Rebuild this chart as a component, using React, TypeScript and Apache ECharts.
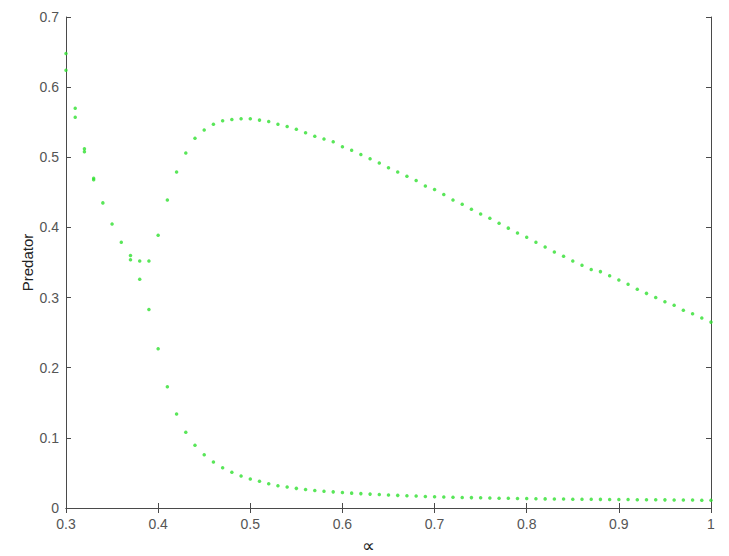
import React, { useEffect, useRef } from "react";
import * as echarts from "echarts";

// alpha values 0.30 ... 1.00 step 0.01
const alphaValues: number[] = [
  0.30, 0.31, 0.32, 0.33, 0.34, 0.35, 0.36, 0.37, 0.38, 0.39,
  0.40, 0.41, 0.42, 0.43, 0.44, 0.45, 0.46, 0.47, 0.48, 0.49,
  0.50, 0.51, 0.52, 0.53, 0.54, 0.55, 0.56, 0.57, 0.58, 0.59,
  0.60, 0.61, 0.62, 0.63, 0.64, 0.65, 0.66, 0.67, 0.68, 0.69,
  0.70, 0.71, 0.72, 0.73, 0.74, 0.75, 0.76, 0.77, 0.78, 0.79,
  0.80, 0.81, 0.82, 0.83, 0.84, 0.85, 0.86, 0.87, 0.88, 0.89,
  0.90, 0.91, 0.92, 0.93, 0.94, 0.95, 0.96, 0.97, 0.98, 0.99,
  1.00,
];

// upper branch of predator equilibrium
const upperBranch: (number | null)[] = [
  0.648, 0.570, 0.512, 0.470, 0.435, 0.405, 0.379, 0.360, 0.352, 0.352,
  0.389, 0.439, 0.479, 0.506, 0.527, 0.539, 0.547, 0.552, 0.554, 0.555,
  0.555, 0.553, 0.551, 0.547, 0.544, 0.540, 0.535, 0.530, 0.526, 0.522,
  0.515, 0.510, 0.504, 0.498, 0.492, 0.485, 0.479, 0.473, 0.467, 0.459,
  0.454, 0.447, 0.439, 0.433, 0.426, 0.419, 0.413, 0.406, 0.399, 0.392,
  0.386, 0.379, 0.372, 0.365, 0.359, 0.352, 0.346, 0.340, 0.337, 0.331,
  0.325, 0.319, 0.312, 0.306, 0.300, 0.294, 0.289, 0.282, 0.277, 0.271,
  0.265,
];

// lower branch of predator equilibrium
const lowerBranch: (number | null)[] = [
  0.624, 0.557, 0.508, 0.468, null, null, null, 0.354, 0.326, 0.283,
  0.227, 0.173, 0.134, 0.108, 0.0894, 0.076, 0.0656, 0.0575, 0.051, 0.0456,
  0.0414, 0.038, 0.0347, 0.0318, 0.030, 0.028, 0.0265, 0.025, 0.024, 0.023,
  0.022, 0.0212, 0.0205, 0.0198, 0.0192, 0.0186, 0.018, 0.0175, 0.017, 0.0165,
  0.016, 0.0157, 0.0154, 0.0151, 0.0148, 0.0145, 0.0142, 0.014, 0.0138, 0.0136,
  0.0134, 0.0132, 0.013, 0.0128, 0.0127, 0.0126, 0.0125, 0.0124, 0.0123, 0.0122,
  0.0121, 0.012, 0.0119, 0.0118, 0.0117, 0.0116, 0.0115, 0.0114, 0.0113, 0.0112,
  0.0111,
];

const xTickLabels = ["0.3", "0.4", "0.5", "0.6", "0.7", "0.8", "0.9", "1"];
const yTickLabels = ["0", "0.1", "0.2", "0.3", "0.4", "0.5", "0.6", "0.7"];

const FONT = "'Liberation Sans', Arial, sans-serif";
const AXIS_COLOR = "#4a4a4a";
const TEXT_COLOR = "#555555";
const DOT_COLOR = "#2fe02f";

export default function App() {
  const ref = useRef<HTMLDivElement>(null);

  useEffect(() => {
    if (!ref.current) return;
    const chart = echarts.init(ref.current, undefined, { renderer: "svg" });

    const pts: [number, number][] = [];
    alphaValues.forEach((a, i) => {
      const u = upperBranch[i];
      const l = lowerBranch[i];
      if (u !== null) pts.push([a, u]);
      if (l !== null) pts.push([a, l]);
    });

    const fmtX = (v: number) => {
      const idx = Math.round((v - 0.3) / 0.1);
      return xTickLabels[idx] ?? "";
    };
    const fmtY = (v: number) => {
      const idx = Math.round(v / 0.1);
      return yTickLabels[idx] ?? "";
    };

    const axisLine = { show: true, lineStyle: { color: AXIS_COLOR, width: 1 } };
    const tick = { show: true, inside: true, length: 5, lineStyle: { color: AXIS_COLOR, width: 1 } };

    chart.setOption({
      animation: false,
      backgroundColor: "#ffffff",
      grid: { left: 66, right: 18, top: 17, bottom: 48, outerBoundsMode: "none", containLabel: false },
      xAxis: [
        {
          type: "value",
          min: 0.3,
          max: 1.0,
          interval: 0.1,
          position: "bottom",
          axisLine,
          axisTick: tick,
          splitLine: { show: false },
          axisLabel: {
            formatter: fmtX,
            color: TEXT_COLOR,
            fontFamily: FONT,
            fontSize: 14,
            margin: 9,
          },
          name: "∝",
          nameLocation: "middle",
          nameGap: 28,
          nameMoveOverlap: false,
          nameTextStyle: {
            color: "#222",
            fontFamily: "'DejaVu Sans', sans-serif",
            fontSize: 18,
            padding: [0, 40, 0, 0],
          },
        },
        {
          type: "value",
          min: 0.3,
          max: 1.0,
          interval: 0.1,
          position: "top",
          axisLine,
          axisTick: tick,
          axisLabel: { show: false },
          splitLine: { show: false },
        },
      ],
      yAxis: [
        {
          type: "value",
          min: 0,
          max: 0.7,
          interval: 0.1,
          position: "left",
          axisLine,
          axisTick: tick,
          splitLine: { show: false },
          axisLabel: {
            formatter: fmtY,
            color: TEXT_COLOR,
            fontFamily: FONT,
            fontSize: 14,
            margin: 7,
          },
          name: "Predator",
          nameLocation: "middle",
          nameGap: 31,
          nameMoveOverlap: false,
          nameRotate: 90,
          nameTextStyle: {
            color: "#222",
            fontFamily: FONT,
            fontSize: 15,
          },
        },
        {
          type: "value",
          min: 0,
          max: 0.7,
          interval: 0.1,
          position: "right",
          axisLine,
          axisTick: tick,
          axisLabel: { show: false },
          splitLine: { show: false },
        },
      ],
      series: [
        {
          type: "scatter",
          xAxisIndex: 0,
          yAxisIndex: 0,
          symbol: "circle",
          symbolSize: 3.5,
          itemStyle: { color: DOT_COLOR },
          data: pts,
          clip: false,
        },
      ],
    });

    return () => chart.dispose();
  }, []);

  return (
    <div
      ref={ref}
      style={{ position: "fixed", left: 0, top: 0, width: 729, height: 556 }}
    />
  );
}
